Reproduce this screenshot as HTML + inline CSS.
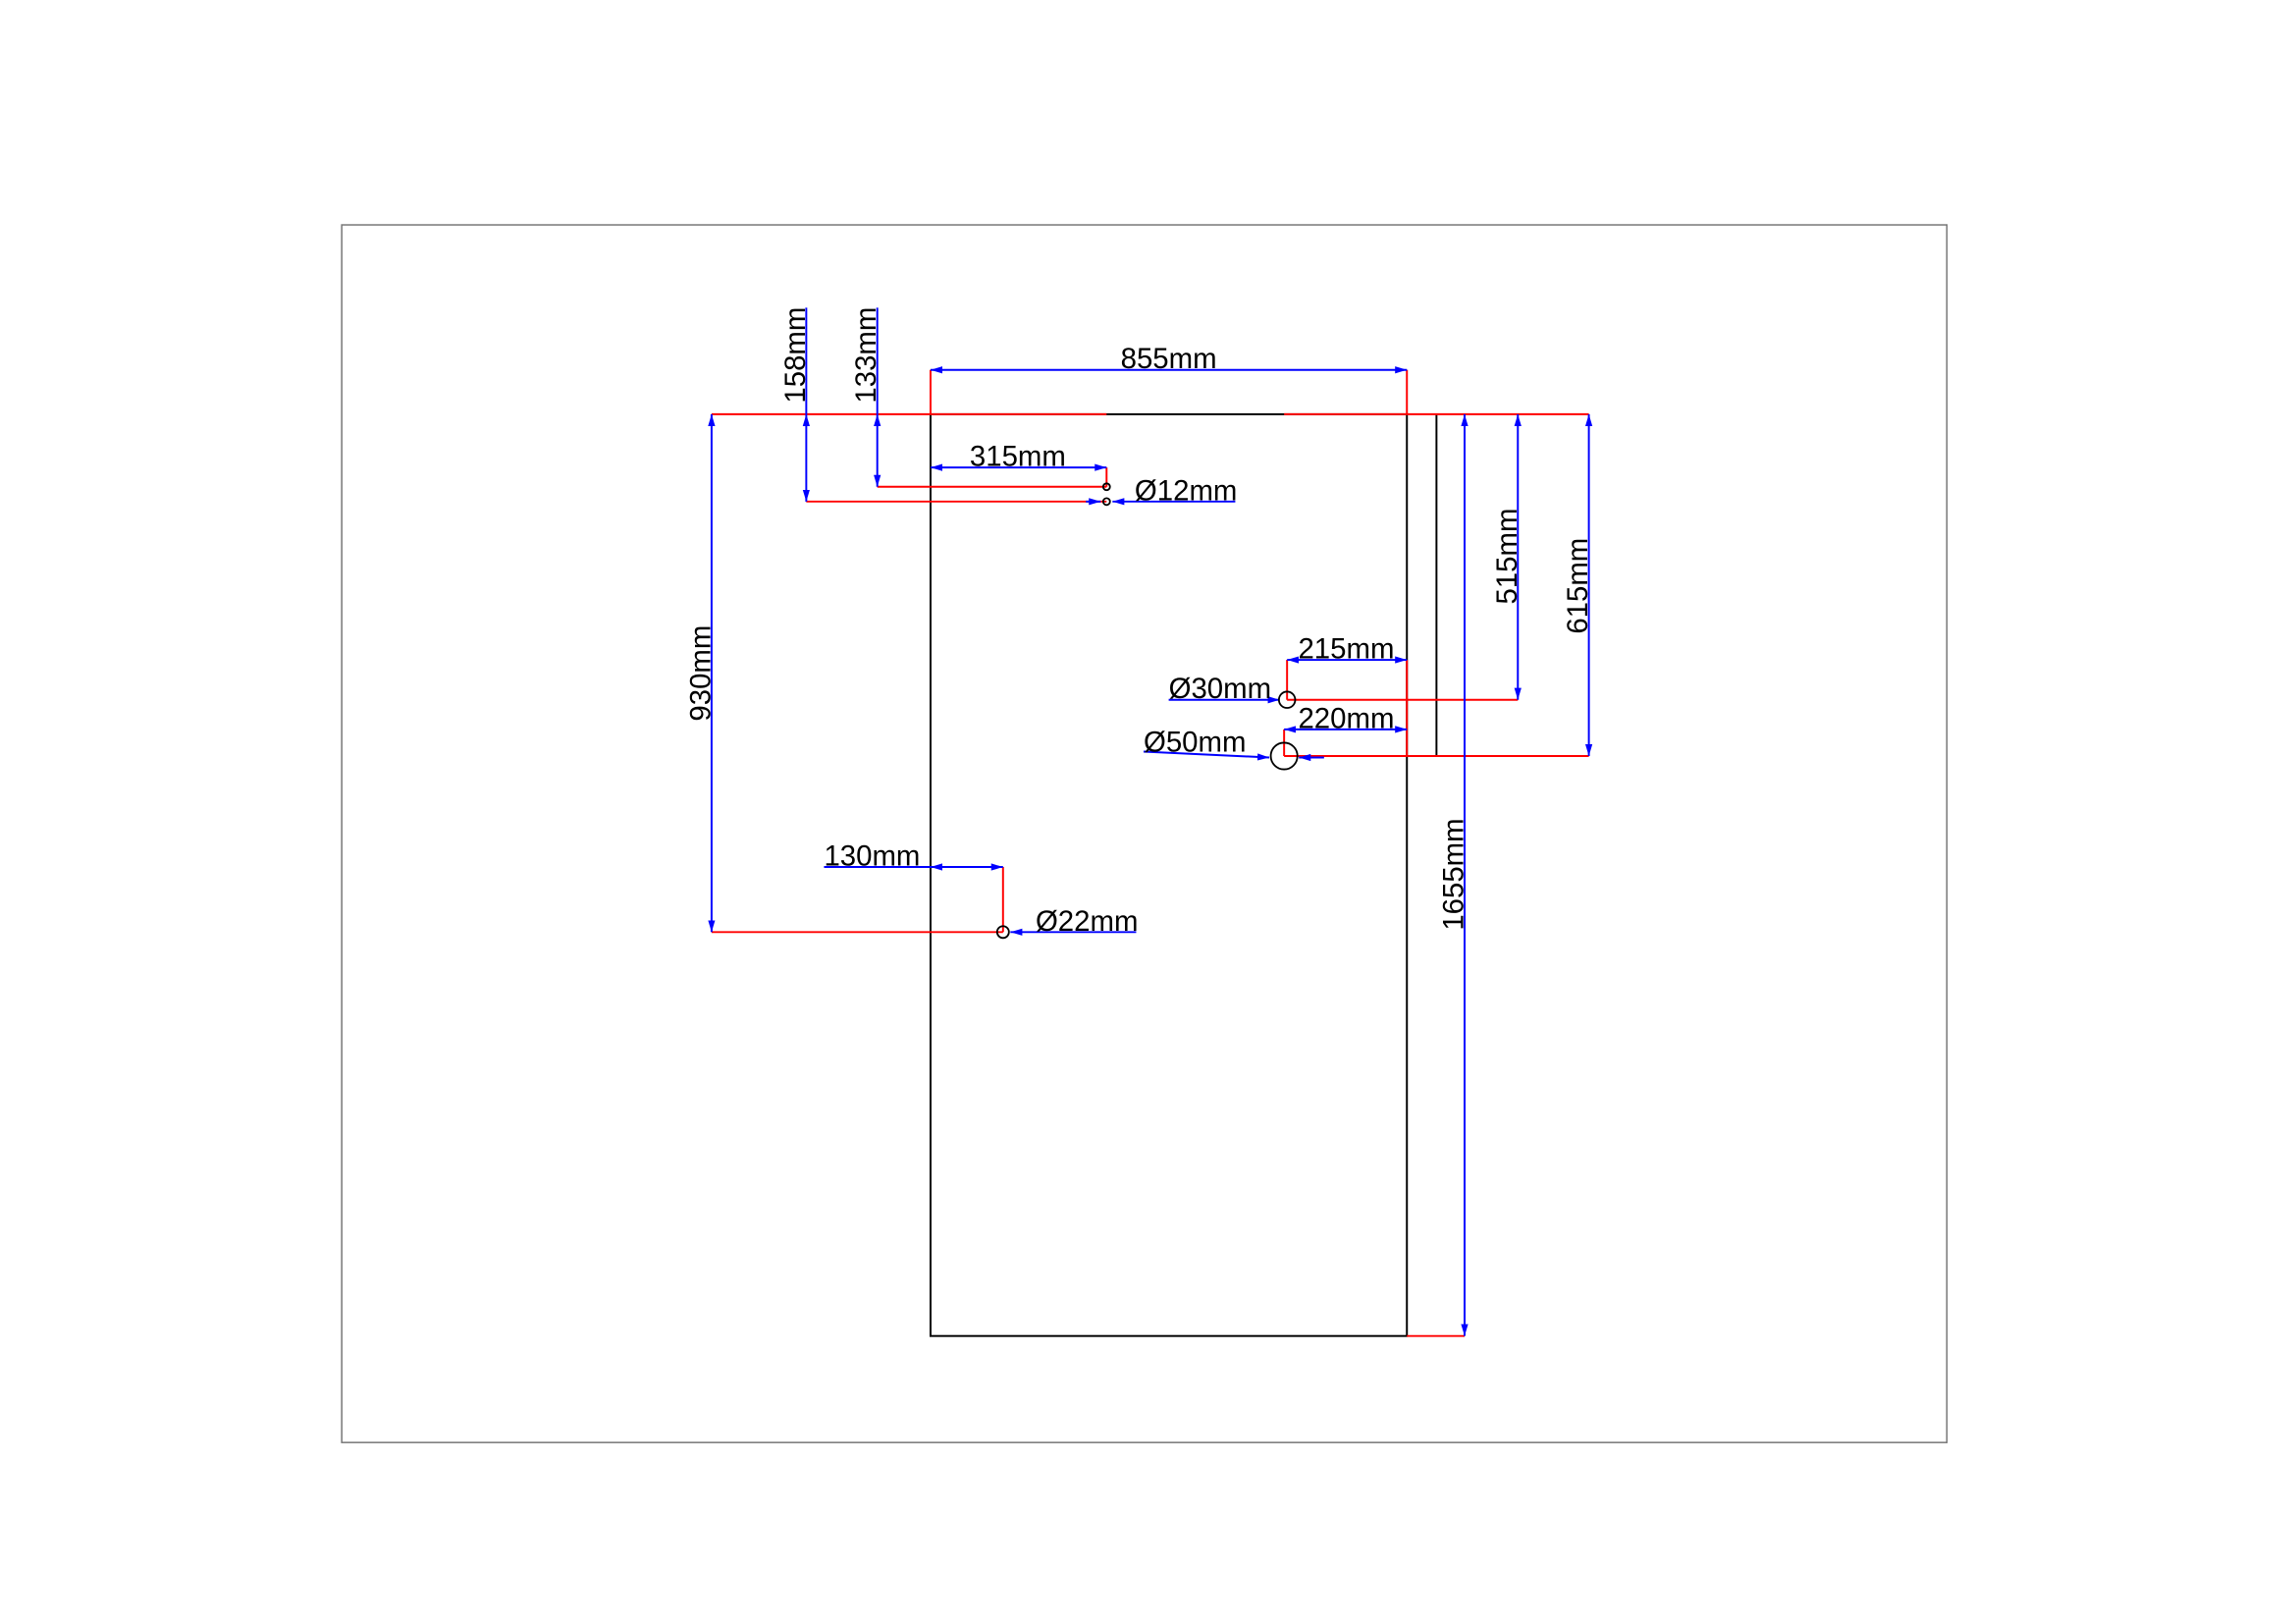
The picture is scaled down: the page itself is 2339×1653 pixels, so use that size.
<!DOCTYPE html>
<html><head><meta charset="utf-8"><style>
html,body{margin:0;padding:0;background:#fff;}
svg{display:block;}
text{font-family:"Liberation Sans",sans-serif;font-size:19.5px;fill:#000;}
</style></head><body>
<svg width="2339" height="1653" viewBox="0 0 1552 1097" preserveAspectRatio="none" xmlns="http://www.w3.org/2000/svg">
<defs>
<marker id="a" viewBox="0 0 10 6" refX="10" refY="3" markerWidth="8" markerHeight="5" orient="auto-start-reverse" markerUnits="userSpaceOnUse"><path d="M0,0L10,3L0,6z" fill="#00f"/></marker>
</defs>
<rect x="231" y="152" width="1085" height="823" fill="none" stroke="#777" stroke-width="1"/>
<g stroke="#000" stroke-width="1.3" fill="none">
<rect x="629" y="280" width="322" height="623"/>
<line x1="971" y1="280" x2="971" y2="511"/>
</g>
<g stroke="#f00" stroke-width="1.3" fill="none">
<line x1="481" y1="280" x2="748" y2="280"/>
<line x1="868" y1="280" x2="1074" y2="280"/>
<line x1="629" y1="250" x2="629" y2="280"/>
<line x1="951" y1="250" x2="951" y2="280"/>
<line x1="545" y1="339" x2="748" y2="339"/>
<line x1="593" y1="329" x2="748" y2="329"/>
<line x1="748" y1="316" x2="748" y2="329"/>
<line x1="481" y1="630" x2="678" y2="630"/>
<line x1="678" y1="586" x2="678" y2="630"/>
<line x1="951" y1="903" x2="990" y2="903"/>
<line x1="870" y1="473" x2="1026" y2="473"/>
<line x1="868" y1="511" x2="1074" y2="511"/>
<line x1="870" y1="446" x2="870" y2="473"/>
<line x1="868" y1="493" x2="868" y2="511"/>
<line x1="951" y1="446" x2="951" y2="511"/>
</g>
<g stroke="#00f" stroke-width="1.3" fill="none">
<line x1="629" y1="250" x2="951" y2="250" marker-start="url(#a)" marker-end="url(#a)"/>
<line x1="545" y1="208" x2="545" y2="280"/>
<line x1="545" y1="280" x2="545" y2="339" marker-start="url(#a)" marker-end="url(#a)"/>
<line x1="593" y1="208" x2="593" y2="280"/>
<line x1="593" y1="280" x2="593" y2="329" marker-start="url(#a)" marker-end="url(#a)"/>
<line x1="629" y1="316" x2="748" y2="316" marker-start="url(#a)" marker-end="url(#a)"/>
<line x1="835" y1="339" x2="752" y2="339" marker-end="url(#a)"/>
<line x1="734" y1="339" x2="744" y2="339" marker-end="url(#a)"/>
<line x1="481" y1="280" x2="481" y2="630" marker-start="url(#a)" marker-end="url(#a)"/>
<line x1="557" y1="586" x2="629" y2="586"/>
<line x1="629" y1="586" x2="678" y2="586" marker-start="url(#a)" marker-end="url(#a)"/>
<line x1="768" y1="630" x2="683" y2="630" marker-end="url(#a)"/>
<line x1="990" y1="280" x2="990" y2="903" marker-start="url(#a)" marker-end="url(#a)"/>
<line x1="1026" y1="280" x2="1026" y2="473" marker-start="url(#a)" marker-end="url(#a)"/>
<line x1="1074" y1="280" x2="1074" y2="511" marker-start="url(#a)" marker-end="url(#a)"/>
<line x1="870" y1="446" x2="951" y2="446" marker-start="url(#a)" marker-end="url(#a)"/>
<line x1="868" y1="493" x2="951" y2="493" marker-start="url(#a)" marker-end="url(#a)"/>
<line x1="790" y1="473" x2="865" y2="473" marker-end="url(#a)"/>
<line x1="773" y1="508" x2="858" y2="512" marker-end="url(#a)"/>
<line x1="895" y1="512" x2="878" y2="512" marker-end="url(#a)"/>
</g>
<g stroke="#000" stroke-width="1.2" fill="none">
<circle cx="748" cy="329" r="2.3"/>
<circle cx="748" cy="339" r="2.3"/>
<circle cx="678" cy="630" r="4"/>
<circle cx="870" cy="473" r="5.5"/>
<circle cx="868" cy="511" r="9"/>
</g>
<text x="790" y="249" text-anchor="middle">855mm</text>
<text x="688" y="315" text-anchor="middle">315mm</text>
<text x="767" y="338">Ø12mm</text>
<text x="557" y="585">130mm</text>
<text x="700" y="629">Ø22mm</text>
<text x="910" y="445" text-anchor="middle">215mm</text>
<text x="790" y="472">Ø30mm</text>
<text x="910" y="492" text-anchor="middle">220mm</text>
<text x="773" y="508">Ø50mm</text>
<text transform="translate(544,240) rotate(-90)" text-anchor="middle">158mm</text>
<text transform="translate(592,240) rotate(-90)" text-anchor="middle">133mm</text>
<text transform="translate(480,455) rotate(-90)" text-anchor="middle">930mm</text>
<text transform="translate(989,591) rotate(-90)" text-anchor="middle">1655mm</text>
<text transform="translate(1025,376) rotate(-90)" text-anchor="middle">515mm</text>
<text transform="translate(1073,396) rotate(-90)" text-anchor="middle">615mm</text>
</svg>
</body></html>
